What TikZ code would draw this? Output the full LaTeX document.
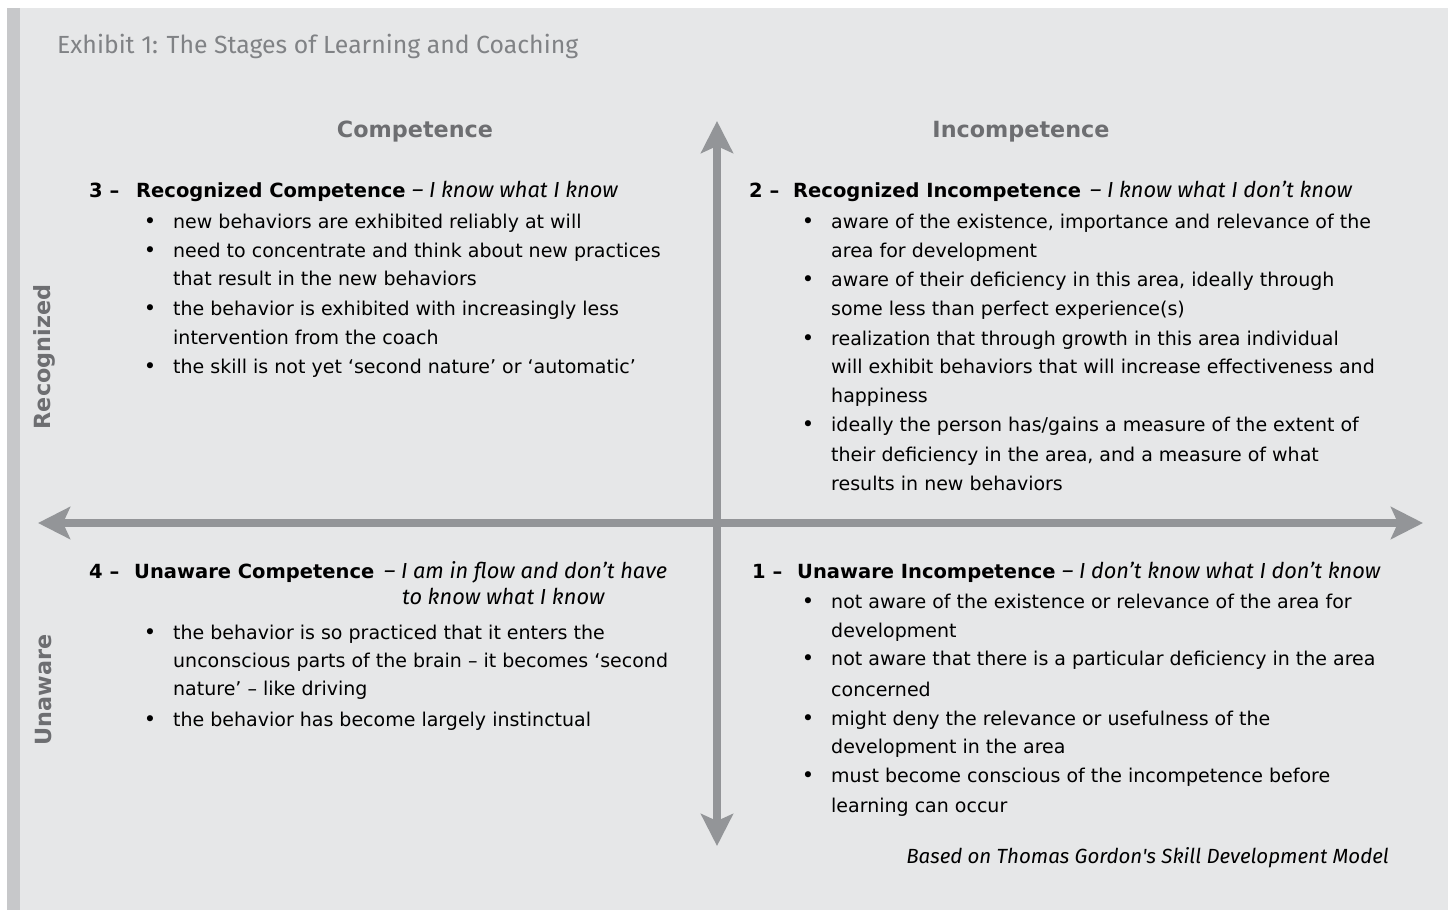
\documentclass[tikz,border=0pt]{standalone}
\usepackage{fontspec}
\setmainfont{DejaVu Sans}
\newfontfamily\firafont{Fira Sans}
\usetikzlibrary{arrows.meta}
\definecolor{paper}{HTML}{E6E7E8}
\definecolor{edgebar}{HTML}{C7C8CA}
\definecolor{axisgray}{HTML}{939598}
\definecolor{labelgray}{HTML}{6D6E71}
\definecolor{titlegray}{HTML}{808285}
\tikzset{
  body/.style={inner sep=0pt, anchor=base west, font=\fontsize{19}{29}\selectfont},
  bul/.style={inner sep=0pt, anchor=base, font=\fontsize{21}{29}\selectfont},
  head/.style={inner sep=0pt, anchor=base west, font=\fontsize{19.5}{29}\selectfont\bfseries},
  motto/.style={inner sep=0pt, anchor=base west, font=\firafont\fontsize{21.8}{26}\selectfont\itshape},
  colhead/.style={inner sep=0pt, text=labelgray, font=\fontsize{22.3}{26}\selectfont\bfseries},
  rowhead/.style={inner sep=0pt, text=labelgray, rotate=90, font=\fontsize{22.3}{26}\selectfont\bfseries},
  axis/.style={draw=axisgray, line width=8pt,
    arrows={Stealth[length=32pt,width=32pt,inset=7pt,fill=axisgray]-Stealth[length=32pt,width=32pt,inset=7pt,fill=axisgray]}},
}
\begin{document}
\begin{tikzpicture}[x=1pt,y=-1pt]
\useasboundingbox (0,0) rectangle (1448,911);
\fill[white] (0,0) rectangle (1448,911);
\fill[paper] (7,8) rectangle (1448,910);
\fill[edgebar] (7,8) rectangle (20,910);

% title
\node[inner sep=0pt, anchor=base west, text=titlegray, font=\firafont\fontsize{24.8}{28}\selectfont] (title) at (57,53)
  {Exhibit 1: The Stages of Learning and Coaching};

% axes
\coordinate (vtop) at (717,121);
\coordinate (vbot) at (717,846);
\coordinate (hleft) at (38,523);
\coordinate (hright) at (1423,523);
\draw[axis] (vbot) -- (vtop);
\draw[axis] (hleft) -- (hright);

% axis labels
\node[colhead] (comp) at (415,132) {Competence};
\node[colhead] (incomp) at (1021,132) {Incompetence};
\node[rowhead] (recog) at (44,357) {Recognized};
\node[rowhead] (unaw) at (44,690) {Unaware};

% quadrant 3
\node[head] (h3n) at (89,197) {3 –};
\node[head] (h3) at (136,197) {Recognized Competence};
\node[motto] (m3) at (412,197) {– I know what I know};
\foreach \y/\b/\t [count=\i] in {
  228/1/{new behaviors are exhibited reliably at will},
  257/1/{need to concentrate and think about new practices},
  285/0/{that result in the new behaviors},
  315/1/{the behavior is exhibited with increasingly less},
  344/0/{intervention from the coach},
  373/1/{the skill is not yet ‘second nature’ or ‘automatic’}}{
  \node[body] (q3l\i) at (173,\y) {\t};
  \ifnum\b=1 \node[bul] (q3b\i) at (150,\y) {\textbullet}; \fi
}

% quadrant 2
\node[head] (h2n) at (749,197) {2 –};
\node[head] (h2) at (793,197) {Recognized Incompetence};
\node[motto] (m2) at (1090,197) {– I know what I don’t know};
\foreach \y/\b/\t [count=\i] in {
  228/1/{aware of the existence, importance and relevance of the},
  257/0/{area for development},
  286/1/{aware of their deficiency in this area, ideally through},
  315/0/{some less than perfect experience(s)},
  345/1/{realization that through growth in this area individual},
  373/0/{will exhibit behaviors that will increase effectiveness and},
  402/0/{happiness},
  431/1/{ideally the person has/gains a measure of the extent of},
  461/0/{their deficiency in the area, and a measure of what},
  490/0/{results in new behaviors}}{
  \node[body] (q2l\i) at (831,\y) {\t};
  \ifnum\b=1 \node[bul] (q2b\i) at (808,\y) {\textbullet}; \fi
}

% quadrant 4
\node[head] (h4n) at (89,578) {4 –};
\node[head] (h4) at (134,578) {Unaware Competence};
\node[motto] (m4) at (384,578) {– I am in flow and don’t have};
\node[motto] (m4b) at (402,604) {to know what I know};
\foreach \y/\b/\t [count=\i] in {
  639/1/{the behavior is so practiced that it enters the},
  667/0/{unconscious parts of the brain – it becomes ‘second},
  695/0/{nature’ – like driving},
  726/1/{the behavior has become largely instinctual}}{
  \node[body] (q4l\i) at (173,\y) {\t};
  \ifnum\b=1 \node[bul] (q4b\i) at (150,\y) {\textbullet}; \fi
}

% quadrant 1
\node[head] (h1n) at (752,578) {1 –};
\node[head] (h1) at (797,578) {Unaware Incompetence};
\node[motto] (m1) at (1062,578) {– I don’t know what I don’t know};
\foreach \y/\b/\t [count=\i] in {
  608/1/{not aware of the existence or relevance of the area for},
  637/0/{development},
  665/1/{not aware that there is a particular deficiency in the area},
  696/0/{concerned},
  725/1/{might deny the relevance or usefulness of the},
  753/0/{development in the area},
  782/1/{must become conscious of the incompetence before},
  812/0/{learning can occur}}{
  \node[body] (q1l\i) at (831,\y) {\t};
  \ifnum\b=1 \node[bul] (q1b\i) at (808,\y) {\textbullet}; \fi
}

% source note
\node[inner sep=0pt, anchor=base east, font=\firafont\fontsize{20.5}{24}\selectfont\itshape] (source) at (1389,863)
  {Based on Thomas Gordon\textquotesingle s Skill Development Model};
\end{tikzpicture}
\end{document}
